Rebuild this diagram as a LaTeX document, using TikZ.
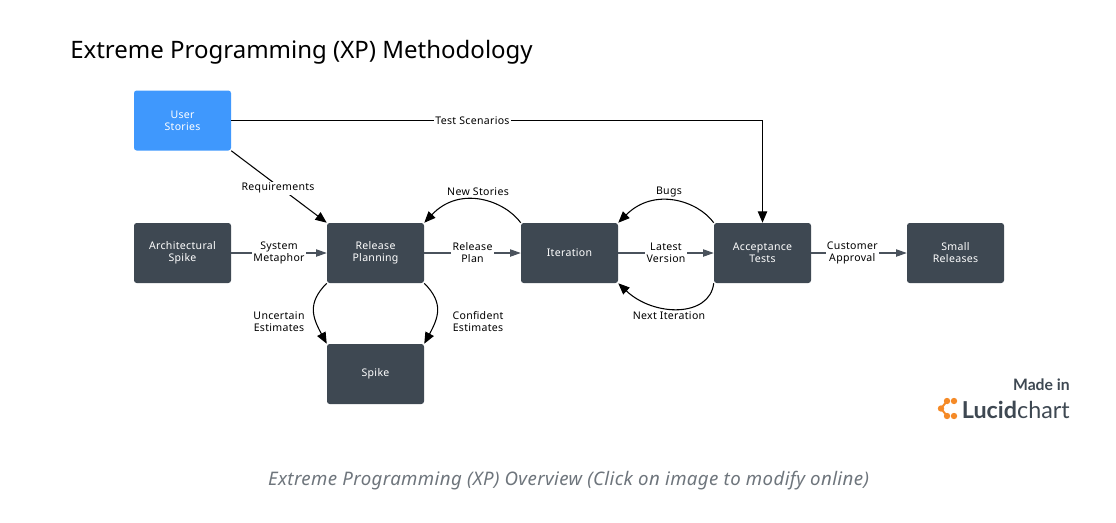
\documentclass[tikz,border=0pt]{standalone}
\usepackage{fontspec}
\setmainfont{Noto Sans}
\newfontfamily\lblfont[LetterSpace=3]{Noto Sans}
\newfontfamily\logofont{Lato}
\usetikzlibrary{arrows.meta}
\definecolor{dk}{HTML}{3E4852}
\definecolor{blu}{HTML}{3F98FD}
\definecolor{grayl}{HTML}{4A525C}
\definecolor{cap}{HTML}{6E757C}
\definecolor{org}{HTML}{F58A27}
\tikzset{
 x=0.75pt,y=-0.75pt,
 boxn/.style={draw=none,fill=dk,rounded corners=2pt,minimum width=72.75pt,minimum height=45pt,inner sep=0pt,align=center,text=white,font=\lblfont\fontsize{7.9}{9}\selectfont},
 lab/.style={fill=white,inner sep=1pt,align=center,text=black,font=\lblfont\fontsize{7.9}{9}\selectfont},
 labn/.style={lab,fill=none},
 blk/.style={draw=black,line width=0.8pt,-{Triangle[length=8.5pt,width=7pt]}},
 gry/.style={draw=grayl,line width=0.8pt,-{Triangle[length=8pt,width=5.5pt,fill=grayl]}},
}
\begin{document}
\begin{tikzpicture}
\useasboundingbox (0,0) rectangle (1116,522);
\node[anchor=west,font=\fontsize{18}{22}\selectfont,text=black,inner sep=0pt] (title) at (70,52.5) {Extreme Programming (XP) Methodology};
\node[boxn,fill=blu] (us) at (182.5,120.5) {User\\Stories};
\node[boxn] (as) at (182.5,253) {Architectural\\Spike};
\node[boxn] (rp) at (375.5,253) {Release\\Planning};
\node[boxn] (it) at (569.5,253) {Iteration};
\node[boxn] (at) at (762.5,253) {Acceptance\\Tests};
\node[boxn] (sr) at (955.5,253) {Small\\Releases};
\node[boxn] (sp) at (375.5,374) {Spike};
\draw[blk] (us.east) -| node[lab,pos=0.227] {Test Scenarios} (at.north);
\draw[blk] (us.south east) -- node[lab,pos=0.49,yshift=-1.5pt] {Requirements} (rp.north west);
\draw[gry] (as) -- node[lab] {System\\Metaphor} (rp);
\draw[gry] (rp) -- node[lab] {Release\\Plan} (it);
\draw[gry] (it) -- node[lab] {Latest\\Version} (at);
\draw[gry] (at) -- node[lab,pos=0.43] {Customer\\Approval} (sr);
\draw[blk] (it.north west) .. controls +(-16,-22) and +(36,-38) .. (rp.north east);
\node[labn] (ns) at (478,191.5) {New Stories};
\draw[blk] (at.north west) .. controls +(-16,-22) and +(36,-36) .. (it.north east);
\node[labn] (bg) at (669,192) {Bugs};
\draw[blk] (at.south west) .. controls +(-4,34) and +(36,34) .. (it.south east);
\node[labn] (ni) at (669,315.5) {Next Iteration};
\draw[blk] (rp.south west) .. controls +(-20,20) and +(-14,-26) .. (sp.north west);
\draw[blk] (rp.south east) .. controls +(20,20) and +(14,-26) .. (sp.north east);
\node[lab] (ue) at (279,322) {Uncertain\\Estimates};
\node[lab] (ce) at (478,322) {Confident\\Estimates};
\node[anchor=east,inner sep=0pt,font=\logofont\bfseries\fontsize{11.8}{13}\selectfont,text=dk] (mi) at (1070,385) {Made in};
\node[anchor=east,inner sep=0pt,font=\logofont\fontsize{17.5}{20}\selectfont,text=dk] (lc) at (1070,410) {\textbf{Lucid}chart};
\foreach \p in {(947,401),(954,401),(941,408.5),(947,416),(954,416)}
  \fill[org] \p circle (2.4pt);
\draw[org,line width=1.5pt] (947,401) -- (941,408.5) -- (947,416);
\node[font=\itshape\fontsize{14}{15}\selectfont\addfontfeature{LetterSpace=2},text=cap,inner sep=0pt] (cp) at (568.5,480.5) {Extreme Programming (XP) Overview (Click on image to modify online)};
\end{tikzpicture}
\end{document}
